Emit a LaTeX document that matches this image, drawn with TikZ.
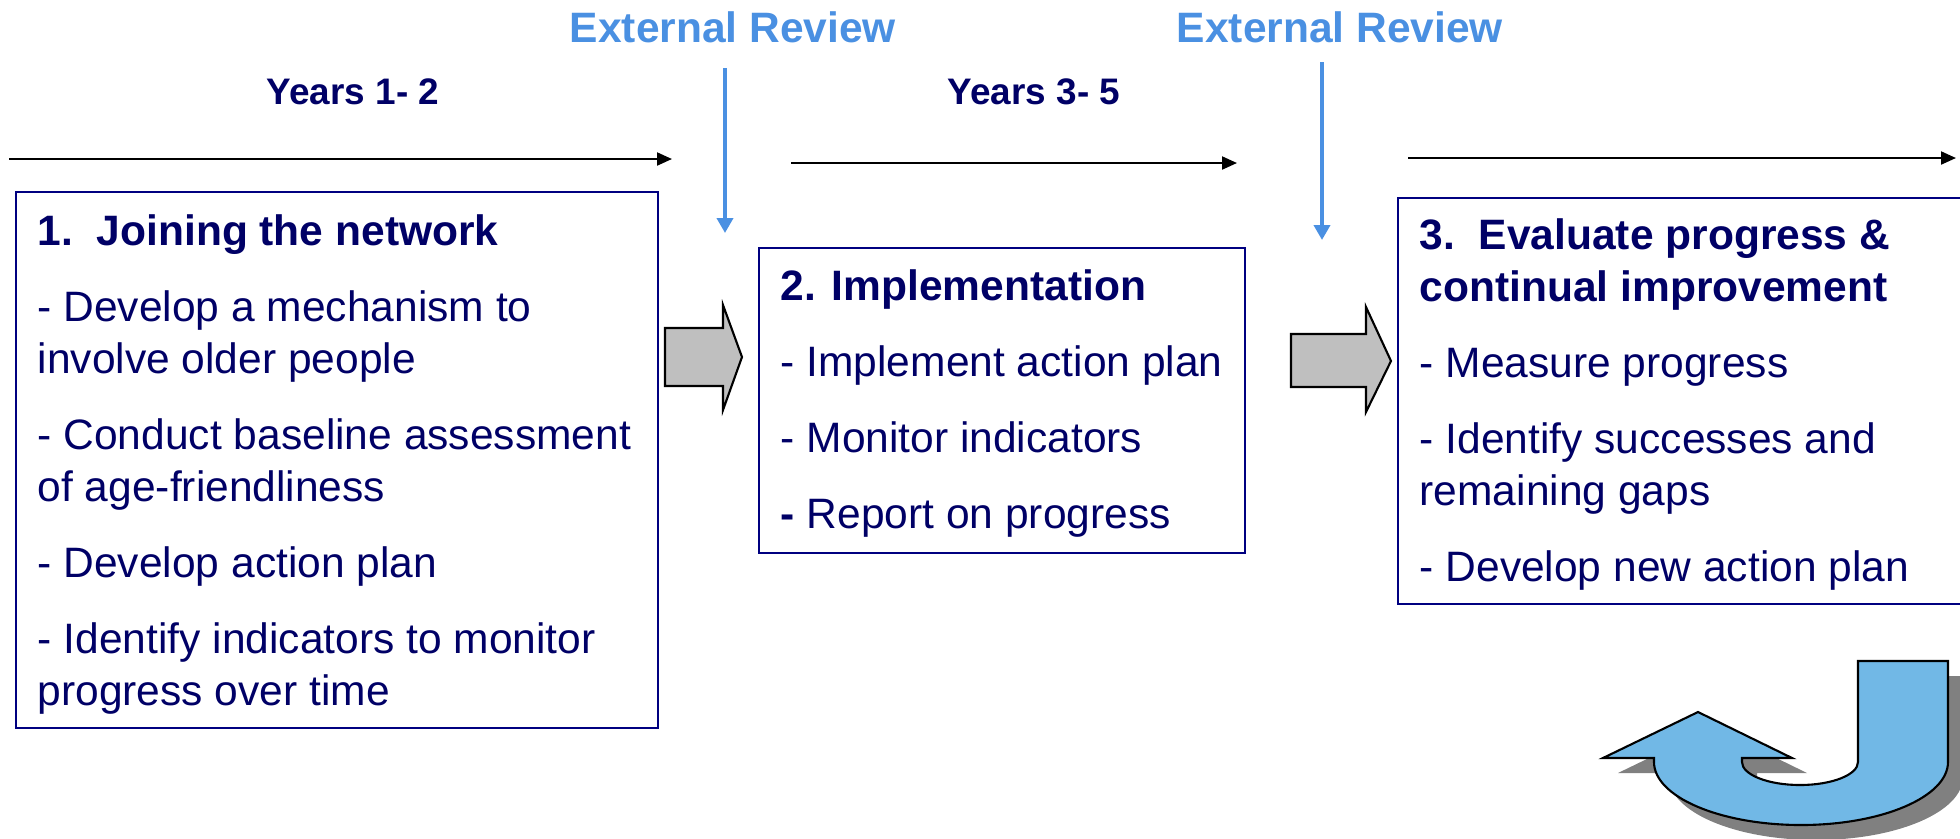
\documentclass[tikz,border=0pt]{standalone}
\usepackage{fontspec}
\setmainfont{Liberation Sans}
\usetikzlibrary{arrows.meta}

\definecolor{navytext}{RGB}{0,0,102}
\definecolor{boxline}{RGB}{0,0,128}
\definecolor{reviewblue}{RGB}{74,144,226}
\definecolor{loopblue}{RGB}{113,184,230}

\newcommand{\firstline}{\rule{0pt}{10pt}} % fixed height of the first line

\begin{document}
\begin{tikzpicture}[x=0.1mm, y=-0.1mm,
  stagebox/.style={draw=boxline, line width=0.6pt, anchor=north west, inner sep=0pt},
  stagetext/.style={anchor=north west, align=left, inner sep=0pt, text=navytext, font=\fontsize{12.1}{14.8}\selectfont},
  yearlabel/.style={anchor=base, inner sep=0pt, text=navytext, font=\fontsize{10.5}{12}\selectfont\bfseries},
  reviewlabel/.style={anchor=base, inner sep=0pt, text=reviewblue, font=\fontsize{12.1}{14}\selectfont\bfseries},
  timeline/.style={line width=0.6pt, -{Triangle[length=1.5mm, width=1.3mm]}},
  reviewarrow/.style={reviewblue, line width=1.1pt, -{Triangle[length=1.5mm, width=1.6mm]}},
  blockarrow/.style={fill=gray!50, draw=black, line width=0.6pt, line join=miter}]
\useasboundingbox (0,0) rectangle (1960,838);

% labels on top
\node[reviewlabel] (rev1) at (733,42) {External Review};
\node[reviewlabel] (rev2) at (1340,42) {External Review};
\node[yearlabel] (years1) at (353,104) {Years 1- 2};
\node[yearlabel] (years2) at (1034,104) {Years 3- 5};

% time lines
\coordinate (t1a) at (9,159); \coordinate (t1b) at (672,159);
\coordinate (t2a) at (791,163); \coordinate (t2b) at (1237,163);
\coordinate (t3a) at (1408,158); \coordinate (t3b) at (1956,158);
\draw[timeline] (t1a) -- (t1b);
\draw[timeline] (t2a) -- (t2b);
\draw[timeline] (t3a) -- (t3b);

% review arrows
\coordinate (r1a) at (725,68); \coordinate (r1b) at (725,233);
\coordinate (r2a) at (1322,62); \coordinate (r2b) at (1322,240);
\draw[reviewarrow] (r1a) -- (r1b);
\draw[reviewarrow] (r2a) -- (r2b);

% stage boxes
\node[stagebox, minimum width=64.2mm, minimum height=53.6mm] (box1) at (15,191) {};
\node[stagebox, minimum width=48.6mm, minimum height=30.5mm] (box2) at (758,247) {};
\node[stagebox, minimum width=58mm, minimum height=40.6mm] (box3) at (1397,197) {};

\node[stagetext] (text1) at (37,209.85) {\firstline\textbf{1.\ \ Joining the network}\\[6.8pt]
  - Develop a mechanism to\\ involve older people\\[6.8pt]
  - Conduct baseline assessment\\ of age-friendliness\\[6.8pt]
  - Develop action plan\\[6.8pt]
  - Identify indicators to monitor\\ progress over time};
\node[stagetext] (text2) at (780,264.85) {\firstline\textbf{2. Implementation}\\[6.8pt]
  - Implement action plan\\[6.8pt]
  - Monitor indicators\\[6.8pt]
  \textbf{-} Report on progress};
\node[stagetext] (text3) at (1419,213.85) {\firstline\textbf{3.\ \ Evaluate progress \&}\\ \textbf{continual improvement}\\[6.8pt]
  - Measure progress\\[6.8pt]
  - Identify successes and\\ remaining gaps\\[6.8pt]
  - Develop new action plan};

% block arrows between stages
\filldraw[blockarrow] (665,328) -- (723,328) -- (723,305) -- (742,357) -- (723,410) -- (723,386) -- (665,386) -- cycle;
\filldraw[blockarrow] (1291,334) -- (1366,334) -- (1366,307) -- (1391,361) -- (1366,412) -- (1366,387) -- (1291,387) -- cycle;

% turning arrow, shadow first
\fill[gray, shift={(15,15)}] (1858,661) -- (1948,661) -- (1948,762) arc (0:180:147 and 63) -- (1654,758) -- (1603,758) -- (1698,712) -- (1792,758) -- (1742,758) -- (1742,762) arc (180:0:58 and 23) -- cycle; %shadow
\filldraw[fill=loopblue, draw=black, line width=0.6pt] (1858,661) -- (1948,661) -- (1948,762) arc (0:180:147 and 63) -- (1654,758) -- (1603,758) -- (1698,712) -- (1792,758) -- (1742,758) -- (1742,762) arc (180:0:58 and 23) -- cycle; %arrow
\end{tikzpicture}
\end{document}
